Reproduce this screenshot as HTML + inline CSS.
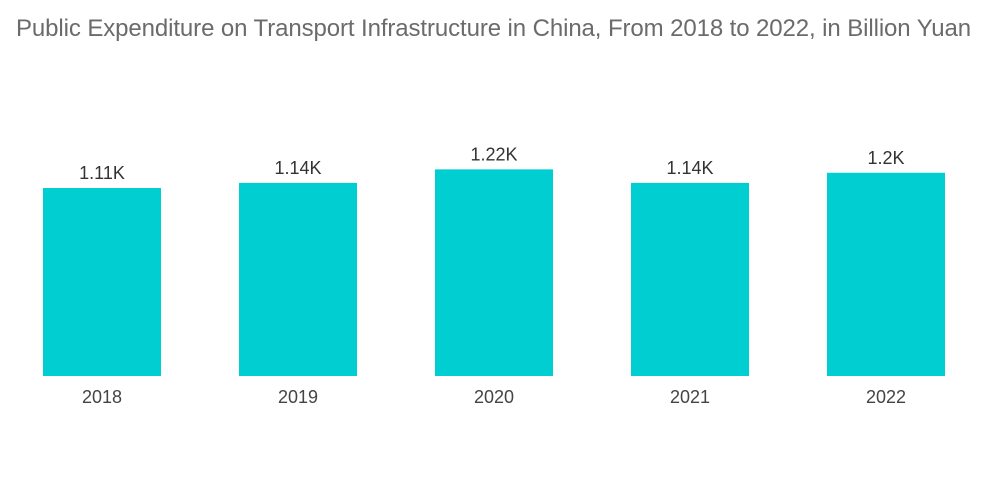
<!DOCTYPE html>
<html><head><meta charset="utf-8"><style>
body{margin:0;background:#fff;width:1000px;height:504px;overflow:hidden;font-family:"Liberation Sans",sans-serif}
#title{position:absolute;left:16px;top:15px;font-size:24px;color:#6b6b6b;white-space:nowrap;letter-spacing:-0.1px}
svg{position:absolute;left:0;top:0}
</style></head><body>
<div id="title">Public Expenditure on Transport Infrastructure in China, From 2018 to 2022, in Billion Yuan</div>
<svg id="chart" width="1000" height="504"></svg>
<script>
const categories=["2018","2019","2020","2021","2022"];
const values=[1110,1140,1220,1140,1200];
const valueLabels=["1.11K","1.14K","1.22K","1.14K","1.2K"];
const svg=document.getElementById('chart');
const NS="http://www.w3.org/2000/svg";
const baseY=376, pxPerUnit=188/1110, x0=43, step=196, bw=118;
function y(v){return baseY-v*pxPerUnit;}
function x(i){return x0+i*step;}
categories.forEach((c,i)=>{
  const r=document.createElementNS(NS,'rect');
  r.setAttribute('x',x(i));r.setAttribute('y',y(values[i]));
  r.setAttribute('width',bw);r.setAttribute('height',baseY-y(values[i]));
  r.setAttribute('fill','#00ced1');
  
  
  svg.appendChild(r);
  const t=document.createElementNS(NS,'text');
  t.setAttribute('x',x(i)+bw/2);t.setAttribute('y',y(values[i])-9);
  t.setAttribute('text-anchor','middle');t.setAttribute('font-size','18');t.setAttribute('fill','#333');
  t.textContent=valueLabels[i];
  
  
  svg.appendChild(t);
  const l=document.createElementNS(NS,'text');
  l.setAttribute('x',x(i)+bw/2);l.setAttribute('y',403);
  l.setAttribute('text-anchor','middle');l.setAttribute('font-size','18');l.setAttribute('fill','#444');
  l.textContent=c;
  
  
  svg.appendChild(l);
});
</script>
</body></html>
